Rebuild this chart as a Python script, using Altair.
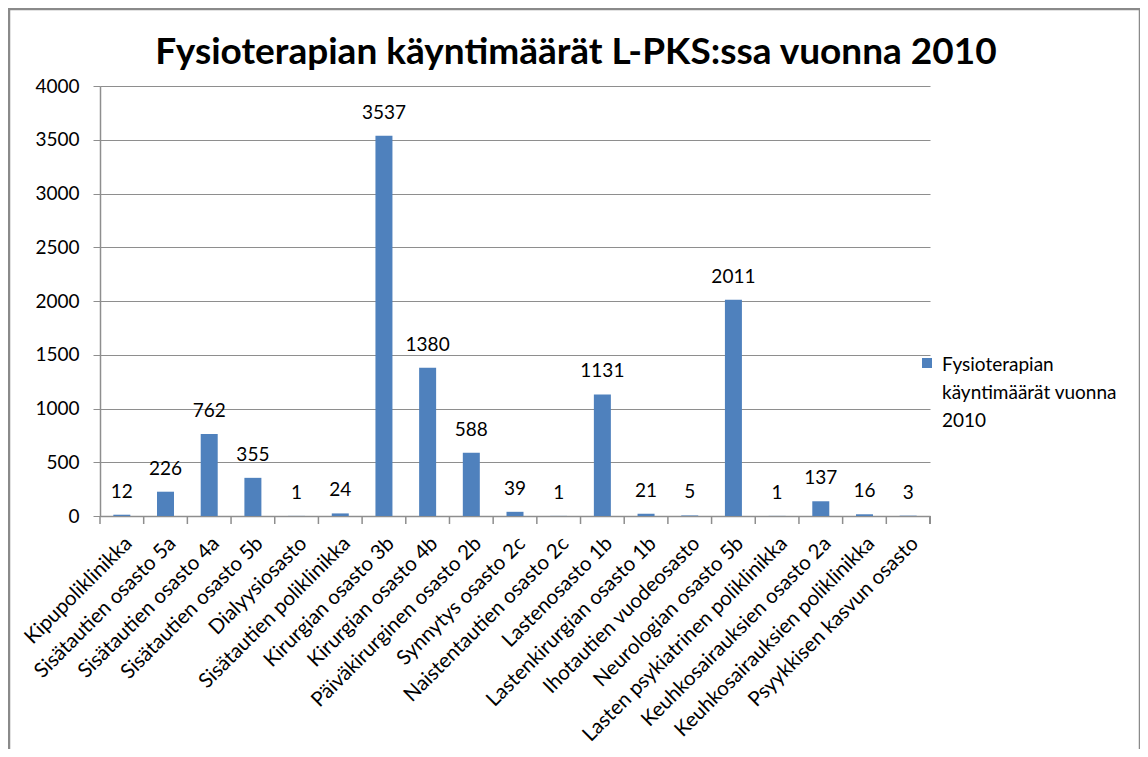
import altair as alt
import pandas as pd

categories = [
    "Kipupoliklinikka", "Sisätautien osasto 5a", "Sisätautien osasto 4a",
    "Sisätautien osasto 5b", "Dialyysiosasto", "Sisätautien poliklinikka",
    "Kirurgian osasto 3b", "Kirurgian osasto 4b", "Päiväkirurginen osasto 2b",
    "Synnytys osasto 2c", "Naistentautien osasto 2c", "Lastenosasto 1b",
    "Lastenkirurgian osasto 1b", "Ihotautien vuodeosasto", "Neurologian osasto 5b",
    "Lasten psykiatrinen poliklinikka", "Keuhkosairauksien osasto 2a",
    "Keuhkosairauksien poliklinikka", "Psyykkisen kasvun osasto",
]
values = [12, 226, 762, 355, 1, 24, 3537, 1380, 588, 39, 1, 1131, 21, 5, 2011, 1, 137, 16, 3]
series_name = "Fysioterapian käyntimäärät vuonna 2010"
legend_lines = ["Fysioterapian", "käyntimäärät vuonna", "2010"]
title_text = "Fysioterapian käyntimäärät L-PKS:ssa vuonna 2010"
y_ticks = [0, 500, 1000, 1500, 2000, 2500, 3000, 3500, 4000]

df = pd.DataFrame({"cat": categories, "val": values, "series": series_name})

FONT = "Lato"
W, H = 830, 430
BLUE = "#4F81BD"
GRID = "#8E8E8E"

x_enc = alt.X(
    "cat:N", sort=categories,
    scale=alt.Scale(paddingInner=0, paddingOuter=0),
    axis=alt.Axis(
        title=None, labelAngle=-45, labelFontSize=20.5, labelFont=FONT,
        labelColor="#000", ticks=False, domainColor=GRID, domainWidth=1.5,
        labelPadding=17, labelLimit=400, grid=False,
    ),
)
y_enc = alt.Y(
    "val:Q",
    scale=alt.Scale(domain=[0, 4000]),
    axis=alt.Axis(
        title=None, values=y_ticks, format="d", labelFontSize=19, labelFont=FONT,
        labelColor="#000", tickSize=7, tickColor=GRID, domainColor=GRID,
        domainWidth=1.5, gridColor=GRID, gridWidth=1.2, labelPadding=14,
    ),
)

base = alt.Chart(df)

bars = base.mark_bar(size=17, color=BLUE).encode(x=x_enc, y=y_enc)

labels = base.mark_text(
    font=FONT, fontSize=19, color="#000", baseline="middle", dy=-23
).encode(x=alt.X("cat:N", sort=categories), y="val:Q", text="val:Q")

ticks = base.mark_rule(color=GRID, strokeWidth=1.5).encode(
    x=alt.X("cat:N", sort=categories, bandPosition=0),
    y=alt.value(H), y2=alt.value(H + 8),
)
end_tick = base.mark_rule(color=GRID, strokeWidth=1.5).encode(
    x=alt.value(W), y=alt.value(H), y2=alt.value(H + 8)
)

leg_df = pd.DataFrame({"series": [series_name]})
leg_sym = alt.Chart(leg_df).mark_square(size=100, color=BLUE, opacity=1).encode(
    x=alt.value(827), y=alt.value(277)
)
leg_txt = alt.Chart(leg_df).mark_text(
    font=FONT, fontSize=19, color="#000", align="left", baseline="middle", lineHeight=28
).encode(x=alt.value(842), y=alt.value(279), text=alt.value(legend_lines))

title_df = pd.DataFrame({"t": [title_text]})
title = alt.Chart(title_df).mark_text(
    font=FONT, fontSize=37, fontWeight="bold", color="#000",
    align="center", baseline="alphabetic",
).encode(x=alt.value(476), y=alt.value(-22), text="t:N")

border = alt.Chart(leg_df).mark_rect(
    filled=False, stroke="#8A8A8A", strokeWidth=2.5
).encode(x=alt.value(-91), x2=alt.value(1040), y=alt.value(-77), y2=alt.value(760))

chart = alt.layer(border, bars, ticks, end_tick, labels, leg_sym, leg_txt, title).properties(
    width=W, height=H,
    autosize=alt.AutoSizeParams(type="none"),
    padding={"left": 92, "top": 78, "right": 210, "bottom": 233},
).configure_view(strokeWidth=0)

chart.save("out.html", embed_options={"renderer": "svg", "actions": False})
